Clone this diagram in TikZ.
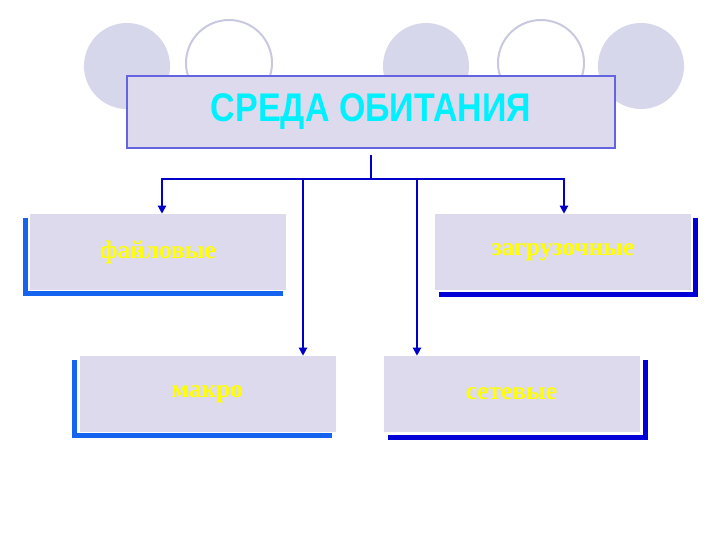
\documentclass[tikz,border=0pt]{standalone}
\usepackage{fontspec}
\setmainfont{Liberation Serif}
\newfontfamily\titlefont{Liberation Sans}
\usetikzlibrary{arrows.meta}
\definecolor{lav}{RGB}{220,218,236}
\definecolor{circ}{RGB}{215,215,235}
\definecolor{circline}{RGB}{200,200,225}
\definecolor{tborder}{RGB}{100,100,225}
\definecolor{conn}{RGB}{0,0,200}
\definecolor{shadowA}{RGB}{20,100,240}
\definecolor{shadowB}{RGB}{0,0,215}
\definecolor{ttl}{RGB}{0,240,255}
\definecolor{ylw}{RGB}{255,255,0}
\begin{document}
\begin{tikzpicture}[x=0.75pt,y=-0.75pt,
  box/.style={fill=lav,draw=none,minimum width=192pt,minimum height=57pt,inner sep=0pt,
    font=\bfseries\fontsize{19}{22}\selectfont,text=ylw},
  conline/.style={draw=conn,line width=2.2pt},
  arr/.style={conline,-{Triangle[length=6pt,width=6pt]}},
  shA/.style={fill=shadowA},
  shB/.style={fill=shadowB}]
\useasboundingbox (0,0) rectangle (720,540);
% circles
\fill[circ] (127,66) circle (43);
\draw[circline,line width=1.5pt,fill=white] (229,63) circle (43);
\fill[circ] (426,66) circle (43);
\draw[circline,line width=1.5pt,fill=white] (541,63) circle (43);
\fill[circ] (641,66) circle (43);
% title
\node[fill=lav,draw=tborder,line width=1.6pt,minimum width=366pt,minimum height=54pt,inner sep=0pt] (title) at (371,112)
  {\titlefont\bfseries\fontsize{30}{32}\selectfont\color{ttl}\scalebox{0.85}[1]{СРЕДА ОБИТАНИЯ}};
% shadows
\fill[shA] (23,218) rectangle (28,296);
\fill[shA] (23,291) rectangle (283,296);
\fill[shA] (72,360) rectangle (77,438);
\fill[shA] (72,433) rectangle (332,438);
\fill[shB] (693,218) rectangle (698,297);
\fill[shB] (439,292) rectangle (698,297);
\fill[shB] (643,360) rectangle (648,440);
\fill[shB] (388,435) rectangle (648,440);
% boxes
\node[box] (b1) at (158,252) {файловые};
\node[box] (b2) at (207.5,394) {макро};
\node[box] (b3) at (563,252) {загрузочные};
\node[box] (b4) at (511.5,394) {сетевые};
% connectors
\coordinate (top) at (371,155);
\coordinate (j) at (371,179);
\draw[conline] (top) -- (j);
\draw[conline] (162,179) -- (564,179);
\draw[arr] (162,178) -- (b1.north -| 162,0);
\draw[arr] (564,178) -- (b3.north -| 564,0);
\draw[arr] (303,178) -- (b2.north -| 303,0);
\draw[arr] (417,178) -- (b4.north -| 417,0);
\end{tikzpicture}
\end{document}
